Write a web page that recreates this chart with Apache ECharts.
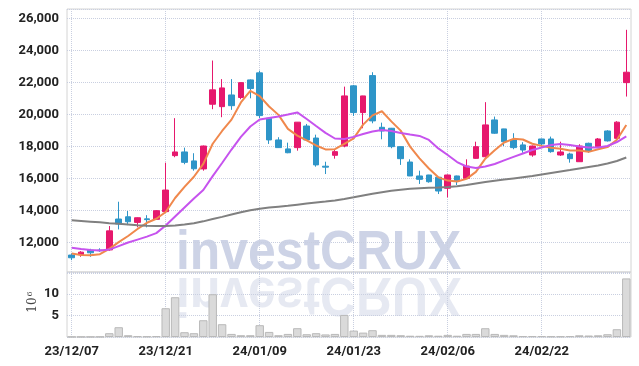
<!DOCTYPE html>
<html>
<head>
<meta charset="utf-8">
<script src="https://cdn.jsdelivr.net/npm/echarts@6/dist/echarts.min.js"></script>
<style>
  html, body { margin: 0; padding: 0; background: #fff; }
  #chart { width: 639px; height: 366px; }
</style>
</head>
<body>
<div id="chart"></div>
<script>
var dates = ['23/12/07','23/12/08','23/12/11','23/12/12','23/12/13','23/12/14','23/12/15','23/12/18','23/12/19','23/12/20',
  '23/12/21','23/12/22','23/12/26','23/12/27','23/12/28','24/01/02','24/01/03','24/01/04','24/01/05','24/01/08',
  '24/01/09','24/01/10','24/01/11','24/01/12','24/01/15','24/01/16','24/01/17','24/01/18','24/01/19','24/01/22',
  '24/01/23','24/01/24','24/01/25','24/01/26','24/01/29','24/01/30','24/01/31','24/02/01','24/02/02','24/02/05',
  '24/02/06','24/02/07','24/02/08','24/02/13','24/02/14','24/02/15','24/02/16','24/02/19','24/02/20','24/02/21',
  '24/02/22','24/02/23','24/02/26','24/02/27','24/02/28','24/02/29','24/03/04','24/03/05','24/03/06','24/03/07'];

// [open, close, low, high]
var ohlc = [
  [11210,11040,10890,11310],[11230,11390,11100,11450],[11520,11350,11100,11600],[11520,11480,11410,11630],[11530,12720,11480,13020],
  [13460,13150,12810,14540],[13600,13290,13080,13960],[13250,13540,12940,13560],[13470,13420,12940,13700],[13440,13980,13400,14020],
  [13920,15270,13880,16980],[17420,17650,17320,19760],[17650,17000,16880,17920],[17090,16600,16480,17570],[16590,18020,16480,18050],
  [20630,21530,20320,23360],[20480,21650,19820,22200],[21210,20540,20280,22200],[21050,21980,20945,22000],[22150,21610,21000,22180],
  [22590,19920,19760,22730],[19760,18400,18150,19800],[18400,17920,17900,18570],[17840,17600,17570,18230],[17920,19510,17730,19520],
  [19270,18400,18380,19400],[18520,16840,16730,18730],[16760,16700,16270,17040],[17440,17670,17230,17770],[18020,21150,17940,21730],
  [21780,20110,19900,21840],[20110,21150,19130,21160],[22420,19590,19440,22630],[19190,18960,18440,19480],[19130,17980,17880,19150],
  [17980,17230,16840,18000],[17020,16150,16140,17190],[16150,15940,15650,16480],[16210,15790,15730,16220],[16070,15210,15020,16080],
  [15380,16210,14810,16240],[16150,15850,15580,16170],[16000,16770,15980,17190],[17250,17980,17220,18290],[17350,19340,17300,20760],
  [19650,18820,18780,19860],[19090,18290,18020,19100],[18400,17920,17820,18820],[18090,17770,17600,18260],[17460,18020,17350,18050],
  [18460,18150,17980,18480],[18460,17670,17600,18610],[17460,17650,17400,18290],[17520,17230,16980,17600],[17040,18020,17040,18130],
  [18190,17710,17600,18230],[17980,18460,17950,18520],[18960,18340,18300,19010],[18500,19510,18460,19570],[21980,22630,21110,25280]
];

var ma5 = [11310,11210,11200,11260,11596,12018,12398,12836,13224,13476,
  13900,14772,15464,16100,16908,18160,18960,19668,20744,21462,
  21140,20490,19966,19090,18670,18366,18054,17810,17824,18152,
  18494,19356,19934,20192,19558,18982,17982,17252,16618,16064,
  15860,15800,15966,16404,17230,17752,18240,18470,18428,18164,
  18030,17906,17852,17744,17744,17656,17814,17952,18408,19330];

var ma20 = [11660,11580,11520,11490,11550,11770,11990,12175,12360,12580,
  13050,13615,14180,14740,15270,16140,16960,17800,18590,19240,
  19680,19770,19870,19990,20120,19710,19270,18840,18490,18460,
  18590,18770,18930,19020,18960,18840,18740,18650,18400,17870,
  17460,17020,16740,16650,16740,16900,17120,17340,17550,17770,
  17930,18090,18150,18090,17990,17930,17930,18020,18270,18620];

var ma60 = [13376,13338,13295,13251,13201,13157,13113,13070,13038,13020,
  13020,13057,13113,13195,13314,13458,13595,13739,13877,14008,
  14108,14177,14233,14289,14358,14427,14490,14552,14621,14708,
  14815,14927,15034,15134,15221,15290,15346,15384,15409,15428,
  15459,15509,15584,15678,15772,15847,15922,15997,16072,16147,
  16241,16335,16429,16522,16616,16710,16804,16929,17085,17304];

// volume, millions of shares
var volume = [0.05,0.04,0.04,0.06,0.89,2.29,0.42,0.19,0.15,0.2,
  6.73,9.3,1.12,0.89,3.92,10.0,2.99,0.72,0.42,0.42,
  2.76,1.19,0.42,0.72,2.06,0.65,0.89,0.6,0.72,5.16,
  1.5,1.03,1.59,0.5,0.5,0.42,0.3,0.28,0.4,0.3,
  0.5,0.3,0.72,0.72,2.05,0.72,0.5,0.4,0.2,0.2,
  0.2,0.15,0.15,0.2,0.4,0.35,0.4,0.65,1.82,13.7];

var labelFont = "Roboto, 'DejaVu Sans Condensed', sans-serif";
var gridColor = '#c9cfe0';

var myChart = echarts.init(document.getElementById('chart'));

function catAxis(gridIndex, showLabel) {
  return {
    type: 'category',
    gridIndex: gridIndex,
    data: dates,
    boundaryGap: true,
    axisLine: { show: false },
    axisTick: { show: false },
    axisLabel: {
      show: showLabel,
      interval: 9,
      color: '#222',
      fontFamily: labelFont,
      fontWeight: 'bold',
      fontSize: 13,
      margin: 8
    },
    splitLine: {
      show: true,
      interval: 9,
      alignWithLabel: true,
      lineStyle: { color: gridColor, type: 'dotted', width: 1 }
    }
  };
}

var option = {
  animation: false,
  backgroundColor: '#fff',
  graphic: [
    {
      type: 'text',
      z: -10,
      left: 176,
      top: 226,
      style: {
        text: 'investCRUX',
        font: 'bold 56px "Liberation Sans", Arial, sans-serif',
        fill: '#cdd3e6'
      },
      scaleX: 0.89
    },
    {
      type: 'text',
      z: -10,
      x: 176,
      y: 273,
      scaleX: 0.89,
      scaleY: -1,
      style: {
        x: 0,
        y: -48,
        text: 'investCRUX',
        font: 'bold 56px "Liberation Sans", Arial, sans-serif',
        fill: '#cdd3e6',
        opacity: 0.5
      }
    },
    {
      // unit of the volume axis
      type: 'text',
      x: 33,
      y: 302,
      rotation: Math.PI / 2,
      style: {
        text: '10{s|6}',
        align: 'center',
        verticalAlign: 'middle',
        fill: '#444',
        font: "12px 'DejaVu Serif', serif",
        rich: {
          s: { fontSize: 8, fill: '#444', padding: [0, 0, 7, 1], fontFamily: "'DejaVu Serif', serif" }
        }
      }
    }
  ],
  grid: [
    { left: 67, right: 8, top: 9, height: 263, show: true, borderColor: '#d4d4d4', borderWidth: 1, backgroundColor: 'transparent' },
    { left: 67, right: 8, top: 272, height: 65, show: true, borderColor: '#d4d4d4', borderWidth: 1, backgroundColor: 'transparent' }
  ],
  xAxis: [catAxis(0, false), catAxis(1, true)],
  yAxis: [
    {
      type: 'value',
      gridIndex: 0,
      min: 10150,
      max: 26580,
      splitNumber: 8,
      minInterval: 2000,
      maxInterval: 2000,
      axisLine: { show: false },
      axisTick: { show: false },
      axisLabel: {
        showMinLabel: false,
        showMaxLabel: false,
        color: '#222',
        fontFamily: labelFont,
        fontWeight: 'bold',
        fontSize: 13,
        margin: 8,
        formatter: function (v) {
          if (v % 2000 !== 0) return '';
          return v.toLocaleString('en-US');
        }
      },
      splitLine: { lineStyle: { color: gridColor, type: 'dotted' } }
    },
    {
      type: 'value',
      gridIndex: 1,
      min: 0,
      max: 15.2,
      interval: 5,
      axisLine: { show: false },
      axisTick: { show: false },
      axisLabel: {
        color: '#222',
        fontFamily: labelFont,
        fontWeight: 'bold',
        fontSize: 13,
        margin: 8,
        formatter: function (v) {
          return (v === 5 || v === 10) ? String(v) : '';
        }
      },
      splitLine: { lineStyle: { color: gridColor, type: 'dotted' } }
    }
  ],
  series: [
    {
      name: 'price',
      type: 'candlestick',
      xAxisIndex: 0,
      yAxisIndex: 0,
      barWidth: '64%',
      itemStyle: {
        color: '#e6186d',
        color0: '#2e95c8',
        borderColor: '#e6186d',
        borderColor0: '#2e95c8',
        borderWidth: 1
      },
      data: ohlc
    },
    {
      name: 'MA5',
      type: 'line',
      xAxisIndex: 0,
      yAxisIndex: 0,
      data: ma5,
      symbol: 'none',
      lineStyle: { color: '#f0884c', width: 2 }
    },
    {
      name: 'MA20',
      type: 'line',
      xAxisIndex: 0,
      yAxisIndex: 0,
      data: ma20,
      symbol: 'none',
      lineStyle: { color: '#c653ee', width: 2 }
    },
    {
      name: 'MA60',
      type: 'line',
      xAxisIndex: 0,
      yAxisIndex: 0,
      data: ma60,
      symbol: 'none',
      lineStyle: { color: '#808080', width: 2 }
    },
    {
      name: 'volume',
      type: 'bar',
      xAxisIndex: 1,
      yAxisIndex: 1,
      barCategoryGap: '10%',
      itemStyle: { color: '#dadada', borderColor: '#b9b9b9', borderWidth: 1 },
      data: volume
    }
  ]
};
myChart.setOption(option);
</script>
</body>
</html>
